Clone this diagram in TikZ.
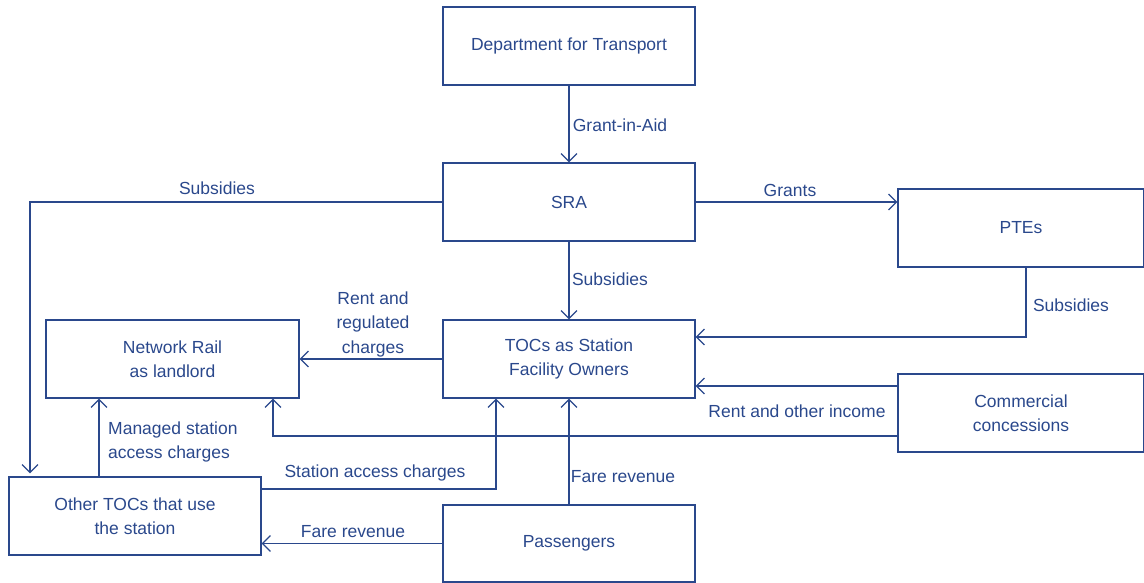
\documentclass[tikz,border=0pt]{standalone}
\usepackage{fontspec}
\setmainfont{Liberation Sans}
\usetikzlibrary{arrows.meta}
\definecolor{ink}{RGB}{42,72,140}
\begin{document}
\begin{tikzpicture}[x=1pt,y=-1pt,
  box/.style={draw=ink,line width=1.2pt,minimum width=252pt,minimum height=78pt,inner sep=0pt,align=center,text=ink,font=\fontsize{17.5}{24.5}\selectfont},
  lbl/.style={text=ink,inner sep=0pt,font=\fontsize{17.5}{24.5}\selectfont},
  arr/.style={draw=ink,line width=1.2pt,-{Straight Barb[length=8pt,width=16pt]}}]
\useasboundingbox (0,0) rectangle (1144,583);
\node[box] (dft) at (569,46) {Department for Transport};
\node[box] (sra) at (569,202) {SRA};
\node[box,minimum width=246pt] (ptes) at (1021,228) {PTEs};
\node[box] (tocs) at (569,359) {TOCs as Station\\Facility Owners};
\node[box,minimum width=253pt] (nr) at (172.5,359) {Network Rail\\as landlord};
\node[box,minimum width=246pt] (comm) at (1021,413) {Commercial\\concessions};
\node[box] (otoc) at (135,516) {Other TOCs that use\\the station};
\node[box,minimum height=77pt] (pass) at (569,543.5) {Passengers};
% helper coordinates
\coordinate (lx) at (30,0);
\coordinate (mx) at (99,0);
\coordinate (sx) at (496,0);
\coordinate (cx) at (273,0);
\coordinate (px) at (1026,0);
\coordinate (sy) at (0,489);
\coordinate (py) at (0,337);
\coordinate (cy1) at (0,386);
\coordinate (cy2) at (0,436);
% connectors
\draw[arr] (dft) -- (sra);
\draw[arr,shorten >=3pt] (sra.west) -| (otoc.north -| lx);
\draw[arr] (sra.east) -- (sra.east -| ptes.west);
\draw[arr] (sra) -- (tocs);
\draw[arr] (ptes.south -| px) |- (tocs.east |- py);
\draw[arr] (comm.west |- cy1) -- (tocs.east |- cy1);
\draw[arr] (comm.west |- cy2) -| (nr.south -| cx);
\draw[arr] (tocs.west) -- (nr.east);
\draw[arr] (otoc.north -| mx) -- (nr.south -| mx);
\draw[arr] (otoc.east |- sy) -| (tocs.south -| sx);
\draw[arr] (pass.north -| tocs.south) -- (tocs.south);
\draw[arr] (pass.west) -- (pass.west -| otoc.east);
% labels
\node[lbl] (l1) at (620,125) {Grant-in-Aid};
\node[lbl] (l2) at (217,188) {Subsidies};
\node[lbl] (l3) at (790,190) {Grants};
\node[lbl] (l4) at (610,279) {Subsidies};
\node[lbl] (l5) at (1071,305) {Subsidies};
\node[lbl,align=center] (l6) at (373,324) {Rent and\\regulated\\charges};
\node[lbl] (l7) at (797,411) {Rent and other income};
\node[lbl,align=left,anchor=west] (l8) at (108,442) {Managed station\\access charges};
\node[lbl] (l9) at (375,473) {Station access charges};
\node[lbl] (l10) at (623,477) {Fare revenue};
\node[lbl] (l11) at (353,532) {Fare revenue};
\end{tikzpicture}
\end{document}
